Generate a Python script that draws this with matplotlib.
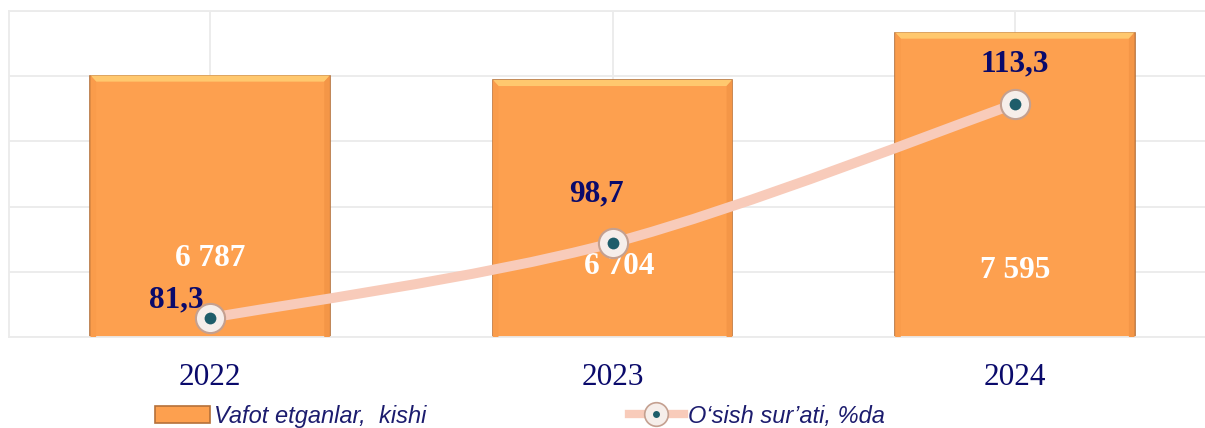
import numpy as np
import matplotlib
matplotlib.use('Agg')
import matplotlib.pyplot as plt
from matplotlib.path import Path
from matplotlib.patches import PathPatch, Patch
from matplotlib.lines import Line2D
from matplotlib.transforms import IdentityTransform

# data
years = ['2022', '2023', '2024']
deaths = [6787, 6704, 7595]
growth = [81.3, 98.7, 113.3]
deaths_labels = ['6 787', '6 704', '7 595']
growth_labels = ['81,3', '98,7', '113,3']

ORANGE = '#FDA04F'
EDGE = '#B5713A'
BEVEL = '#FFC86E'
LINE = '#F8CBBA'
NAVY = '#0A0A6B'
GRID = '#EBEBEB'

plt.rcParams['font.family'] = ['Liberation Serif', 'DejaVu Serif']

fig = plt.figure(figsize=(12.05, 4.28), dpi=100)
ax = fig.add_axes([9 / 1205, 91 / 428, 1207 / 1205, 326 / 428])
x = np.arange(len(years))

ax.set_xlim(-0.5, 2.5)
ax.set_ylim(1870, 8000)
ax.set_yticks(np.linspace(1870, 8000, 6))
ax.set_xticks(x)
ax.set_xticklabels(years, fontsize=22.5, color=NAVY)
ax.tick_params(axis='x', length=0, pad=19)
ax.tick_params(axis='y', length=0, labelleft=False)
ax.grid(True, color=GRID, lw=1.3, zorder=0)
ax.set_axisbelow(True)
for s in ax.spines.values():
    s.set_color(GRID)
    s.set_linewidth(1.3)

w = 0.595
ax.bar(x, deaths, width=w, color=ORANGE, edgecolor=EDGE, linewidth=1.2, zorder=2)
# bevel of the bars
dx, dy = 0.014, 115
for xi, v in zip(x, deaths):
    ax.fill([xi - w / 2, xi + w / 2, xi + w / 2 - dx, xi - w / 2 + dx],
            [v, v, v - dy, v - dy], color=BEVEL, lw=0, zorder=3)
    ax.fill([xi - w / 2, xi - w / 2 + dx, xi - w / 2 + dx, xi - w / 2],
            [v, v - dy, 1870, 1870], color='#FA9C4B', lw=0, zorder=3)
    ax.fill([xi + w / 2, xi + w / 2 - dx, xi + w / 2 - dx, xi + w / 2],
            [v, v - dy, 1870, 1870], color='#F49647', lw=0, zorder=3)

# bar value labels (offsets in pixels from bar bottom)
bar_off = [(0, 79), (7, 71), (0, 67)]
for xi, lab, (ox, oy) in zip(x, deaths_labels, bar_off):
    ax.annotate(lab, (xi, 0), xycoords=('data', 'axes fraction'),
                xytext=(ox * 0.72, oy * 0.72), textcoords='offset points',
                ha='center', va='center', fontsize=22.5, fontweight='bold',
                color='white', zorder=6)

# secondary axis for growth rate
ax2 = ax.twinx()
k = 0.05
ax2.set_yscale('function', functions=(lambda v: np.exp(k * v),
                                      lambda f: np.log(np.clip(f, 1e-9, None)) / k))
ax2.set_ylim(72.65, 119.26)
ax2.set_xlim(-0.5, 2.5)
ax2.axis('off')

pts = ax2.transData.transform(np.column_stack([x, growth]))
verts = [pts[0]]
codes = [Path.MOVETO]
n = len(pts)
for i in range(n - 1):
    p0 = pts[max(i - 1, 0)]
    p1 = pts[i]
    p2 = pts[i + 1]
    p3 = pts[min(i + 2, n - 1)]
    verts += [p1 + (p2 - p0) / 6, p2 - (p3 - p1) / 6, p2]
    codes += [Path.CURVE4] * 3
curve = PathPatch(Path(verts, codes), transform=IdentityTransform(), fill=False,
                  edgecolor=LINE, lw=7.2, capstyle='round', zorder=4)
ax2.add_patch(curve)
ax2.plot(x, growth, 'o', ms=21, mfc='#F6EEEA', mec='#C4A090', mew=1.5, zorder=5)
ax2.plot(x, growth, 'o', ms=8.5, mfc='#1E5D6A', mec='none', zorder=6)

line_off = [(-33.5, 18), (-16, 49), (0, 40)]
for xi, v, lab, (ox, oy) in zip(x, growth, growth_labels, line_off):
    ax2.annotate(lab, (xi, v), xytext=(ox * 0.72, oy * 0.72), textcoords='offset points',
                 ha='center', va='center', fontsize=22.5, fontweight='bold',
                 color=NAVY, zorder=7)

# legend
h_bar = Patch(facecolor=ORANGE, edgecolor=EDGE, linewidth=1.2)
h_line = (Line2D([], [], color=LINE, lw=6),
          Line2D([], [], ls='none', marker='o', ms=17, mfc='#F6EEEA', mec='#C4A090', mew=1.2),
          Line2D([], [], ls='none', marker='o', ms=5, mfc='#1E5D6A', mec='none'))
fig.legend([h_bar, h_line], ['Vafot etganlar,  kishi', 'O\u2018sish sur\u2019ati, %da'],
           loc='center left', bbox_to_anchor=(155 / 1205, 12 / 428), ncol=2,
           frameon=False, borderpad=0, borderaxespad=0, handlelength=2.33,
           handletextpad=0.15, columnspacing=8.6,
           prop={'family': ['Liberation Sans', 'DejaVu Sans'], 'style': 'italic', 'size': 17},
           labelcolor='#1C1C6E')

fig.savefig('out.png', dpi=100)
